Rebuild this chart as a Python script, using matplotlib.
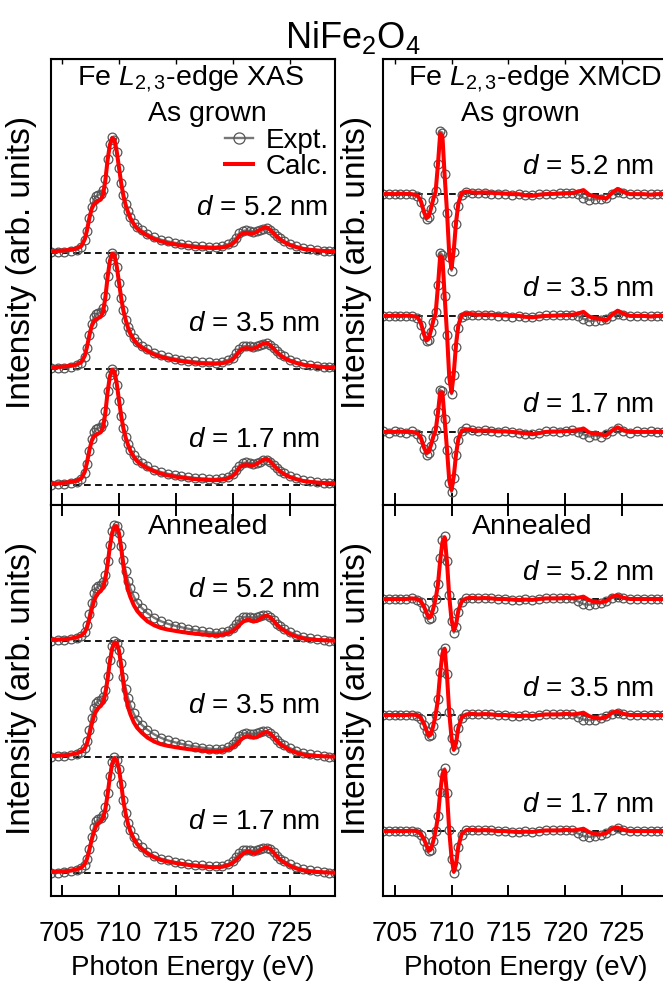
import matplotlib
matplotlib.use("Agg")
import matplotlib.pyplot as plt
from matplotlib.lines import Line2D

plt.rcParams['font.family'] = ['Liberation Sans', 'DejaVu Sans']
plt.rcParams['mathtext.fontset'] = 'custom'
plt.rcParams['mathtext.rm'] = 'Liberation Sans'
plt.rcParams['mathtext.it'] = 'Liberation Sans:italic'

# ---------------- data ----------------
# energy grids (eV)
e_xas = [704.0, 704.6, 705.2, 705.8, 706.3, 706.7,
         707.0, 707.2, 707.4, 707.6, 707.8, 708.0, 708.2, 708.4, 708.6, 708.8, 709.0, 709.2,
         709.4, 709.6, 709.8, 710.0, 710.2, 710.4, 710.6, 710.8, 711.0, 711.3, 711.6, 712.0,
         712.5, 713.1, 713.7, 714.3, 714.9, 715.5, 716.1, 716.7, 717.3, 717.9, 718.5, 719.1, 719.6,
         720.0, 720.3, 720.6, 720.9, 721.2, 721.5, 721.8, 722.1, 722.4, 722.7, 723.0, 723.3,
         723.6, 723.9, 724.2, 724.5,
         725.0, 725.6, 726.2, 726.8, 727.4, 728.0, 728.5, 729.0]

e_mcd = [704.0, 704.5, 705.0, 705.5, 706.0, 706.5,
         707.0, 707.3, 707.6, 707.8, 708.0, 708.2, 708.4, 708.6, 708.8, 709.0, 709.2, 709.4,
         709.6, 709.8, 710.0, 710.2, 710.4, 710.6, 710.9,
         711.3, 711.8, 712.3, 712.9, 713.5, 714.1, 714.7, 715.3, 715.9, 716.5, 717.1, 717.7,
         718.3, 718.9, 719.5, 720.1, 720.6, 721.1, 721.6, 722.1, 722.6, 723.1, 723.6, 724.1,
         724.6, 725.1, 725.7, 726.3, 726.9, 727.5, 728.1, 728.6, 729.0]

thickness = ['5.2', '3.5', '1.7']

# XAS, as grown
xas_g_expt_52 = [0.005, 0.008, 0.012, 0.020, 0.030, 0.055,
                 0.110, 0.190, 0.300, 0.400, 0.460, 0.490, 0.500, 0.510, 0.540, 0.640, 0.810, 0.940,
                 1.000, 0.970, 0.870, 0.730, 0.600, 0.500, 0.420, 0.360, 0.310, 0.260, 0.225, 0.195,
                 0.165, 0.135, 0.115, 0.100, 0.088, 0.078, 0.070, 0.064, 0.058, 0.055, 0.054, 0.060, 0.075,
                 0.095, 0.130, 0.170, 0.190, 0.195, 0.190, 0.185, 0.190, 0.200, 0.210, 0.215, 0.200,
                 0.175, 0.150, 0.125, 0.105,
                 0.080, 0.058, 0.042, 0.032, 0.025, 0.020, 0.017, 0.015]
xas_g_calc_52 = [0.015, 0.018, 0.022, 0.030, 0.040, 0.060,
                 0.120, 0.200, 0.300, 0.380, 0.420, 0.440, 0.450, 0.460, 0.500, 0.620, 0.800, 0.930,
                 0.990, 0.980, 0.880, 0.740, 0.600, 0.490, 0.410, 0.350, 0.300, 0.250, 0.210, 0.180,
                 0.150, 0.120, 0.100, 0.085, 0.075, 0.065, 0.058, 0.052, 0.047, 0.044, 0.043, 0.048, 0.060,
                 0.080, 0.110, 0.150, 0.170, 0.175, 0.170, 0.170, 0.180, 0.200, 0.215, 0.220, 0.200,
                 0.170, 0.140, 0.115, 0.095,
                 0.070, 0.050, 0.035, 0.027, 0.022, 0.018, 0.016, 0.015]
xas_g_expt_35 = [0.005, 0.008, 0.012, 0.020, 0.032, 0.055,
                 0.105, 0.185, 0.290, 0.390, 0.445, 0.470, 0.480, 0.490, 0.525, 0.630, 0.800, 0.940,
                 1.000, 0.975, 0.875, 0.740, 0.610, 0.505, 0.425, 0.365, 0.315, 0.265, 0.230, 0.200,
                 0.170, 0.140, 0.118, 0.102, 0.090, 0.080, 0.072, 0.065, 0.060, 0.057, 0.056, 0.062, 0.078,
                 0.098, 0.135, 0.175, 0.195, 0.200, 0.195, 0.190, 0.195, 0.205, 0.215, 0.220, 0.205,
                 0.180, 0.152, 0.128, 0.108,
                 0.082, 0.060, 0.044, 0.033, 0.026, 0.021, 0.018, 0.016]
xas_g_calc_35 = [0.015, 0.018, 0.022, 0.030, 0.040, 0.060,
                 0.115, 0.195, 0.290, 0.370, 0.410, 0.430, 0.440, 0.450, 0.490, 0.610, 0.790, 0.930,
                 0.995, 0.985, 0.890, 0.750, 0.610, 0.500, 0.420, 0.355, 0.305, 0.255, 0.215, 0.185,
                 0.155, 0.125, 0.105, 0.090, 0.078, 0.068, 0.060, 0.054, 0.049, 0.046, 0.045, 0.050, 0.062,
                 0.082, 0.115, 0.155, 0.175, 0.180, 0.175, 0.175, 0.185, 0.205, 0.220, 0.225, 0.205,
                 0.175, 0.145, 0.118, 0.097,
                 0.072, 0.052, 0.037, 0.028, 0.022, 0.018, 0.016, 0.015]
xas_g_expt_17 = [0.003, 0.006, 0.010, 0.018, 0.028, 0.050,
                 0.100, 0.180, 0.290, 0.395, 0.455, 0.480, 0.490, 0.500, 0.535, 0.640, 0.810, 0.945,
                 1.000, 0.970, 0.865, 0.725, 0.595, 0.495, 0.415, 0.355, 0.305, 0.255, 0.220, 0.190,
                 0.160, 0.130, 0.112, 0.097, 0.086, 0.076, 0.068, 0.062, 0.057, 0.054, 0.053, 0.058, 0.072,
                 0.092, 0.128, 0.168, 0.190, 0.195, 0.190, 0.185, 0.190, 0.200, 0.212, 0.218, 0.202,
                 0.176, 0.150, 0.125, 0.104,
                 0.078, 0.057, 0.041, 0.031, 0.024, 0.019, 0.016, 0.014]
xas_g_calc_17 = [0.012, 0.015, 0.020, 0.028, 0.038, 0.058,
                 0.115, 0.200, 0.300, 0.380, 0.420, 0.435, 0.445, 0.455, 0.495, 0.615, 0.800, 0.935,
                 0.995, 0.980, 0.880, 0.735, 0.595, 0.485, 0.405, 0.345, 0.295, 0.245, 0.205, 0.175,
                 0.145, 0.118, 0.098, 0.083, 0.073, 0.064, 0.057, 0.051, 0.046, 0.043, 0.042, 0.047, 0.058,
                 0.078, 0.108, 0.150, 0.172, 0.178, 0.172, 0.170, 0.180, 0.200, 0.218, 0.225, 0.205,
                 0.172, 0.142, 0.116, 0.095,
                 0.070, 0.050, 0.035, 0.027, 0.022, 0.018, 0.016, 0.015]

# XAS, annealed
xas_a_expt_52 = [0.002, 0.005, 0.010, 0.018, 0.028, 0.045,
                 0.080, 0.140, 0.230, 0.330, 0.410, 0.455, 0.470, 0.480, 0.505, 0.570, 0.690, 0.830,
                 0.950, 1.000, 0.990, 0.930, 0.820, 0.700, 0.600, 0.520, 0.455, 0.385, 0.330, 0.285,
                 0.240, 0.200, 0.170, 0.148, 0.132, 0.118, 0.105, 0.094, 0.084, 0.076, 0.070, 0.074, 0.088,
                 0.110, 0.145, 0.185, 0.205, 0.210, 0.205, 0.200, 0.205, 0.215, 0.222, 0.222, 0.205,
                 0.178, 0.150, 0.125, 0.105,
                 0.078, 0.052, 0.035, 0.024, 0.015, 0.008, 0.004, 0.002]
xas_a_calc_52 = [0.010, 0.012, 0.016, 0.022, 0.032, 0.048,
                 0.075, 0.120, 0.190, 0.270, 0.340, 0.390, 0.415, 0.430, 0.460, 0.530, 0.660, 0.810,
                 0.930, 0.985, 0.990, 0.930, 0.800, 0.640, 0.530, 0.440, 0.380, 0.310, 0.260, 0.215,
                 0.170, 0.135, 0.112, 0.098, 0.088, 0.078, 0.070, 0.063, 0.057, 0.052, 0.050, 0.054, 0.066,
                 0.085, 0.110, 0.140, 0.165, 0.180, 0.180, 0.170, 0.172, 0.190, 0.210, 0.218, 0.205,
                 0.175, 0.140, 0.112, 0.092,
                 0.062, 0.038, 0.022, 0.014, 0.009, 0.006, 0.004, 0.003]
xas_a_expt_35 = [0.002, 0.005, 0.010, 0.018, 0.028, 0.045,
                 0.080, 0.140, 0.235, 0.340, 0.420, 0.465, 0.480, 0.490, 0.515, 0.580, 0.700, 0.840,
                 0.955, 1.000, 0.985, 0.925, 0.810, 0.690, 0.590, 0.510, 0.445, 0.375, 0.322, 0.278,
                 0.235, 0.195, 0.165, 0.143, 0.127, 0.113, 0.101, 0.090, 0.081, 0.073, 0.068, 0.072, 0.086,
                 0.108, 0.142, 0.182, 0.202, 0.207, 0.202, 0.198, 0.203, 0.214, 0.222, 0.222, 0.205,
                 0.178, 0.150, 0.125, 0.105,
                 0.078, 0.052, 0.035, 0.024, 0.015, 0.008, 0.004, 0.002]
xas_a_calc_35 = [0.010, 0.012, 0.016, 0.022, 0.032, 0.048,
                 0.075, 0.120, 0.195, 0.280, 0.350, 0.400, 0.425, 0.440, 0.470, 0.540, 0.670, 0.820,
                 0.935, 0.985, 0.985, 0.920, 0.790, 0.630, 0.520, 0.430, 0.370, 0.300, 0.252, 0.210,
                 0.168, 0.133, 0.110, 0.096, 0.086, 0.076, 0.068, 0.061, 0.055, 0.050, 0.048, 0.052, 0.064,
                 0.083, 0.108, 0.138, 0.163, 0.178, 0.178, 0.168, 0.170, 0.188, 0.208, 0.216, 0.203,
                 0.173, 0.138, 0.110, 0.090,
                 0.060, 0.037, 0.021, 0.013, 0.009, 0.006, 0.004, 0.003]
xas_a_expt_17 = [0.002, 0.004, 0.008, 0.015, 0.025, 0.040,
                 0.072, 0.125, 0.210, 0.310, 0.395, 0.445, 0.462, 0.472, 0.500, 0.565, 0.690, 0.840,
                 0.955, 1.000, 0.975, 0.900, 0.770, 0.630, 0.520, 0.435, 0.375, 0.310, 0.262, 0.222,
                 0.182, 0.148, 0.124, 0.108, 0.096, 0.086, 0.078, 0.071, 0.065, 0.060, 0.058, 0.063, 0.078,
                 0.100, 0.135, 0.175, 0.195, 0.200, 0.195, 0.190, 0.195, 0.208, 0.218, 0.220, 0.205,
                 0.178, 0.148, 0.122, 0.102,
                 0.075, 0.050, 0.033, 0.022, 0.014, 0.008, 0.004, 0.002]
xas_a_calc_17 = [0.010, 0.012, 0.016, 0.022, 0.032, 0.048,
                 0.078, 0.125, 0.200, 0.285, 0.355, 0.405, 0.430, 0.445, 0.475, 0.545, 0.675, 0.825,
                 0.940, 0.990, 0.975, 0.900, 0.765, 0.615, 0.505, 0.420, 0.360, 0.295, 0.248, 0.208,
                 0.168, 0.135, 0.112, 0.098, 0.088, 0.078, 0.070, 0.063, 0.057, 0.052, 0.050, 0.054, 0.066,
                 0.086, 0.112, 0.142, 0.167, 0.182, 0.182, 0.172, 0.175, 0.193, 0.212, 0.220, 0.207,
                 0.177, 0.142, 0.114, 0.093,
                 0.063, 0.039, 0.023, 0.015, 0.010, 0.006, 0.004, 0.003]

# XMCD, as grown
mcd_g_expt_52 = [0.000, 0.000, -0.003, 0.002, 0.000, -0.002,
                 -0.015, -0.070, -0.170, -0.215, -0.200, -0.130, -0.050, 0.030, 0.260, 0.540, 0.530,
                 0.170, -0.160, -0.540, -0.660, -0.500, -0.260, -0.100, -0.010,
                 0.015, 0.010, 0.008, 0.012, 0.005, 0.005, 0.000, -0.005, 0.000, -0.005, -0.008, 0.000,
                 0.005, 0.005, 0.010, 0.012, 0.010, 0.000, -0.030, -0.050, -0.045, -0.040, -0.035, 0.000,
                 0.020, 0.010, 0.000, 0.000, 0.000, 0.000, 0.000, 0.000, 0.000]
mcd_g_calc_52 = [0.000, 0.002, 0.000, 0.003, 0.002, 0.000,
                 -0.010, -0.060, -0.160, -0.205, -0.190, -0.120, -0.040, 0.020, 0.250, 0.520, 0.500,
                 0.150, -0.150, -0.520, -0.640, -0.480, -0.240, -0.080, 0.010,
                 0.022, 0.015, 0.012, 0.015, 0.012, 0.008, 0.005, 0.000, 0.000, -0.010, -0.015, -0.005,
                 0.000, 0.002, 0.005, 0.008, 0.010, 0.020, 0.035, -0.005, -0.020, -0.025, -0.040, 0.010,
                 0.045, 0.020, 0.000, 0.000, 0.000, -0.005, 0.000, 0.000, 0.000]
mcd_g_expt_35 = [0.000, 0.003, 0.000, -0.002, 0.003, 0.000,
                 -0.015, -0.075, -0.175, -0.220, -0.205, -0.135, -0.050, 0.030, 0.265, 0.545, 0.525,
                 0.175, -0.165, -0.550, -0.675, -0.505, -0.265, -0.100, -0.010,
                 0.012, 0.010, 0.005, 0.010, 0.008, 0.002, 0.000, -0.005, 0.000, -0.005, -0.010, 0.000,
                 0.005, 0.005, 0.008, 0.012, 0.010, 0.000, -0.025, -0.045, -0.040, -0.035, -0.030, 0.000,
                 0.020, 0.008, 0.000, 0.000, 0.002, 0.000, 0.000, 0.000, 0.000]
mcd_g_calc_35 = [0.000, 0.000, 0.002, 0.000, 0.002, 0.000,
                 -0.010, -0.060, -0.165, -0.210, -0.195, -0.120, -0.040, 0.020, 0.250, 0.515, 0.505,
                 0.160, -0.150, -0.530, -0.660, -0.490, -0.240, -0.080, 0.010,
                 0.020, 0.015, 0.010, 0.012, 0.010, 0.008, 0.005, 0.000, 0.000, -0.008, -0.012, -0.005,
                 0.000, 0.002, 0.005, 0.008, 0.010, 0.020, 0.035, -0.005, -0.020, -0.025, -0.040, 0.010,
                 0.045, 0.020, 0.000, 0.000, 0.000, -0.005, 0.000, 0.000, 0.000]
mcd_g_expt_17 = [0.005, -0.005, 0.005, 0.000, -0.005, 0.005,
                 -0.020, -0.060, -0.150, -0.195, -0.180, -0.120, -0.045, 0.020, 0.175, 0.360, 0.350,
                 0.110, -0.160, -0.440, -0.520, -0.400, -0.200, -0.070, 0.005,
                 0.030, 0.020, 0.010, 0.015, 0.005, 0.000, 0.010, 0.000, -0.010, -0.020, -0.015, -0.005,
                 0.005, 0.010, 0.000, 0.010, 0.015, 0.000, -0.020, -0.040, -0.030, -0.040, -0.020, 0.010,
                 0.030, 0.005, -0.005, 0.005, 0.000, 0.005, 0.000, 0.000, 0.000]
mcd_g_calc_17 = [0.000, 0.000, 0.000, 0.002, 0.000, 0.000,
                 -0.010, -0.050, -0.140, -0.180, -0.170, -0.110, -0.040, 0.010, 0.160, 0.340, 0.340,
                 0.100, -0.150, -0.420, -0.500, -0.380, -0.190, -0.060, 0.010,
                 0.020, 0.015, 0.010, 0.012, 0.010, 0.005, 0.005, 0.000, -0.005, -0.010, -0.020, -0.010,
                 0.000, 0.002, 0.005, 0.008, 0.010, 0.015, 0.030, -0.005, -0.015, -0.020, -0.030, 0.010,
                 0.040, 0.015, 0.000, 0.000, 0.000, 0.000, 0.000, 0.000, 0.000]

# XMCD, annealed
mcd_a_expt_52 = [0.000, 0.000, -0.003, 0.000, 0.003, 0.005,
                 -0.005, -0.030, -0.080, -0.130, -0.170, -0.160, -0.090, 0.000, 0.130, 0.350, 0.510,
                 0.540, 0.330, 0.030, -0.190, -0.290, -0.240, -0.110, -0.025,
                 0.005, 0.008, 0.008, 0.010, 0.005, 0.002, 0.000, -0.005, -0.008, -0.003, -0.005, 0.000,
                 0.005, 0.008, 0.010, 0.012, 0.005, -0.020, -0.045, -0.050, -0.040, -0.035, -0.015, 0.010,
                 0.020, 0.008, 0.000, 0.000, 0.000, 0.000, 0.000, 0.000, 0.000]
mcd_a_calc_52 = [0.000, 0.000, 0.000, 0.000, 0.000, 0.005,
                 0.000, -0.020, -0.070, -0.120, -0.160, -0.150, -0.080, 0.000, 0.120, 0.330, 0.490,
                 0.530, 0.320, 0.020, -0.180, -0.270, -0.220, -0.100, -0.020,
                 0.005, 0.010, 0.005, 0.008, 0.005, 0.000, 0.000, -0.005, -0.010, -0.005, -0.008, 0.000,
                 0.005, 0.005, 0.005, 0.010, 0.005, 0.010, 0.020, -0.010, -0.025, -0.030, -0.020, 0.020,
                 0.030, 0.010, 0.000, 0.000, 0.000, 0.000, 0.000, 0.000, 0.000]
mcd_a_expt_35 = [0.003, 0.000, 0.000, -0.003, 0.000, 0.003,
                 -0.008, -0.035, -0.090, -0.140, -0.185, -0.175, -0.095, 0.000, 0.140, 0.370, 0.545,
                 0.580, 0.350, 0.030, -0.200, -0.305, -0.250, -0.115, -0.025,
                 0.008, 0.010, 0.005, 0.010, 0.008, 0.002, 0.000, -0.005, -0.005, -0.003, -0.008, 0.000,
                 0.005, 0.008, 0.010, 0.010, 0.005, -0.020, -0.040, -0.045, -0.040, -0.030, -0.010, 0.010,
                 0.020, 0.008, 0.000, 0.000, 0.000, 0.000, 0.000, 0.000, 0.000]
mcd_a_calc_35 = [0.000, 0.000, 0.000, 0.000, 0.000, 0.003,
                 0.000, -0.025, -0.080, -0.135, -0.180, -0.165, -0.090, 0.000, 0.130, 0.360, 0.530,
                 0.570, 0.340, 0.020, -0.200, -0.300, -0.240, -0.110, -0.020,
                 0.005, 0.010, 0.005, 0.008, 0.005, 0.000, 0.000, -0.005, -0.010, -0.005, -0.008, 0.000,
                 0.005, 0.005, 0.005, 0.010, 0.005, 0.010, 0.020, -0.010, -0.025, -0.030, -0.020, 0.020,
                 0.030, 0.010, 0.000, 0.000, 0.000, 0.000, 0.000, 0.000, 0.000]
mcd_a_expt_17 = [0.000, 0.003, -0.003, 0.000, 0.003, 0.000,
                 -0.010, -0.035, -0.085, -0.135, -0.175, -0.165, -0.090, 0.000, 0.130, 0.340, 0.500,
                 0.540, 0.330, 0.010, -0.240, -0.360, -0.300, -0.140, -0.030,
                 0.010, 0.012, 0.008, 0.010, 0.005, 0.000, 0.000, -0.005, -0.005, -0.003, -0.008, 0.000,
                 0.005, 0.008, 0.010, 0.010, 0.005, -0.020, -0.045, -0.050, -0.045, -0.035, -0.015, 0.010,
                 0.022, 0.010, 0.000, 0.000, 0.000, 0.000, 0.000, 0.000, 0.000]
mcd_a_calc_17 = [0.000, 0.000, 0.000, 0.000, 0.000, 0.003,
                 0.000, -0.025, -0.075, -0.125, -0.170, -0.155, -0.085, 0.000, 0.120, 0.330, 0.490,
                 0.525, 0.320, 0.000, -0.230, -0.350, -0.285, -0.130, -0.025,
                 0.008, 0.010, 0.005, 0.008, 0.005, 0.000, 0.000, -0.005, -0.010, -0.005, -0.008, 0.000,
                 0.005, 0.005, 0.005, 0.010, 0.005, 0.010, 0.020, -0.010, -0.025, -0.030, -0.020, 0.020,
                 0.030, 0.010, 0.000, 0.000, 0.000, 0.000, 0.000, 0.000, 0.000]

# vertical offsets of the stacked spectra (5.2, 3.5, 1.7 nm)
off_xas_g = [2.0, 1.0, 0.0]
off_xas_a = [2.0, 1.0, 0.0]
off_mcd_g = [2.05, 1.0, 0.0]
off_mcd_a = [2.0, 1.0, 0.0]

# ---------------- figure ----------------
W, H = 663, 982
fig = plt.figure(figsize=(W / 100, H / 100), dpi=100)


def box(x0, y0, x1, y1):
    return [x0 / W, 1 - y1 / H, (x1 - x0) / W, (y1 - y0) / H]


ax_xg = fig.add_axes(box(50.7, 59, 335, 505))
ax_xa = fig.add_axes(box(50.7, 505, 335, 896))
ax_mg = fig.add_axes(box(383.3, 59, 667.6, 505))
ax_ma = fig.add_axes(box(383.3, 505, 667.6, 896))

EXPT_KW = dict(color='#777777', lw=1.7, marker='o', ms=6.3, mfc='none',
               mec='#555555', mew=0.9, zorder=2)
CALC_KW = dict(color='#ff0000', lw=2.9, zorder=3)


def draw(ax, energy, expts, calcs, offsets):
    for ey, cy, off in zip(expts, calcs, offsets):
        ax.axhline(off, color='black', lw=1.3, ls=(0, (3.7, 2.4)), zorder=1)
        ax.plot(energy, [v + off for v in ey], **EXPT_KW)
        ax.plot(energy, [v + off for v in cy], **CALC_KW)


draw(ax_xg, e_xas, [xas_g_expt_52, xas_g_expt_35, xas_g_expt_17],
     [xas_g_calc_52, xas_g_calc_35, xas_g_calc_17], off_xas_g)
draw(ax_xa, e_xas, [xas_a_expt_52, xas_a_expt_35, xas_a_expt_17],
     [xas_a_calc_52, xas_a_calc_35, xas_a_calc_17], off_xas_a)
draw(ax_mg, e_mcd, [mcd_g_expt_52, mcd_g_expt_35, mcd_g_expt_17],
     [mcd_g_calc_52, mcd_g_calc_35, mcd_g_calc_17], off_mcd_g)
draw(ax_ma, e_mcd, [mcd_a_expt_52, mcd_a_expt_35, mcd_a_expt_17],
     [mcd_a_calc_52, mcd_a_calc_35, mcd_a_calc_17], off_mcd_a)

ax_xg.set_ylim(-0.172, 3.672)
ax_xa.set_ylim(-0.198, 3.172)
ax_mg.set_ylim(-0.63, 3.215)
ax_ma.set_ylim(-0.56, 2.81)

xticks = [705, 710, 715, 720, 725]
for ax in (ax_xg, ax_xa, ax_mg, ax_ma):
    ax.set_xlim(704, 729)
    ax.set_xticks(xticks)
    ax.set_yticks([])
    for s in ax.spines.values():
        s.set_linewidth(1.5)

for ax in (ax_xg, ax_mg):
    ax.tick_params(axis='x', direction='in', bottom=True, top=False,
                   labelbottom=False, length=8.6, width=1.4)
    sec = ax.secondary_xaxis('top')
    sec.set_xticks(xticks)
    sec.tick_params(direction='in', length=3.6, width=1.0, labeltop=False)

for ax in (ax_xa, ax_ma):
    ax.tick_params(axis='x', direction='in', bottom=True, top=True,
                   length=8.2, width=1.4, labelsize=20, pad=18)

# stacked-spectrum labels (right end in eV, baseline height above each offset)
d_label_pos = ((ax_xg, off_xas_g, [0.33, 0.33, 0.33], [728.4, 727.7, 727.7]),
               (ax_xa, off_xas_a, [0.38, 0.38, 0.38], [727.7, 727.7, 727.7]),
               (ax_mg, off_mcd_g, [0.17, 0.17, 0.17], [727.8, 727.8, 727.8]),
               (ax_ma, off_mcd_a, [0.165, 0.165, 0.165], [727.8, 727.8, 727.8]))
for ax, offs, dys, xrs in d_label_pos:
    for t, off, dy, xr in zip(thickness, offs, dys, xrs):
        ax.text(xr, off + dy, f'$d$ = {t} nm', ha='right', va='baseline', fontsize=20)

ax_xg.text(0.0925, 0.9417, 'Fe $L_{2,3}$-edge XAS', transform=ax_xg.transAxes,
           ha='left', va='baseline', fontsize=20.5)
ax_xg.text(0.342, 0.861, 'As grown', transform=ax_xg.transAxes,
           ha='left', va='baseline', fontsize=20.5)
ax_mg.text(0.0869, 0.9417, 'Fe $L_{2,3}$-edge XMCD', transform=ax_mg.transAxes,
           ha='left', va='baseline', fontsize=20.5)
ax_mg.text(0.272, 0.861, 'As grown', transform=ax_mg.transAxes,
           ha='left', va='baseline', fontsize=20.5)
ax_xa.text(0.343, 0.926, 'Annealed', transform=ax_xa.transAxes,
           ha='left', va='baseline', fontsize=20.5)
ax_ma.text(0.311, 0.926, 'Annealed', transform=ax_ma.transAxes,
           ha='left', va='baseline', fontsize=20.5)

handles = [Line2D([], [], **EXPT_KW), Line2D([], [], **CALC_KW)]
handles[0].set_markersize(8)
ax_xg.legend(handles, ['Expt.', 'Calc.'], loc='upper right', bbox_to_anchor=(0.978, 0.845),
             frameon=False, fontsize=20, handlelength=1.0, handletextpad=0.45,
             labelspacing=0.0, borderaxespad=0, borderpad=0)

fig.text(353 / W, 1 - 38 / H, 'NiFe$_2$O$_4$', ha='center', va='center', fontsize=26)
for x in (22, 357):
    for yc in (262, 688):
        fig.text(x / W, 1 - yc / H, 'Intensity (arb. units)', rotation=90,
                 ha='center', va='center', fontsize=24)
for xc in (192.9, 525.5):
    fig.text(xc / W, 1 - 968 / H, 'Photon Energy (eV)', ha='center', va='center', fontsize=20)

fig.savefig('out.png', dpi=100)
